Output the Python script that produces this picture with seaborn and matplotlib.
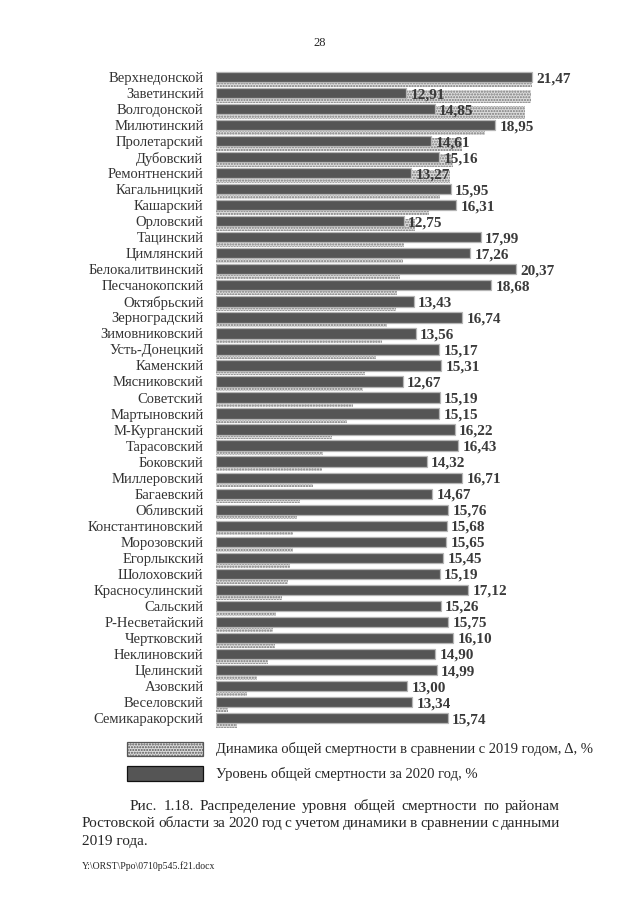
import numpy as np
import pandas as pd
import matplotlib
matplotlib.use("Agg")
import matplotlib.pyplot as plt
from matplotlib.patches import Rectangle
import seaborn as sns

districts = ["Верхнедонской", "Заветинский", "Волгодонской", "Милютинский", "Пролетарский",
             "Дубовский", "Ремонтненский", "Кагальницкий", "Кашарский", "Орловский",
             "Тацинский", "Цимлянский", "Белокалитвинский", "Песчанокопский", "Октябрьский",
             "Зерноградский", "Зимовниковский", "Усть-Донецкий", "Каменский", "Мясниковский",
             "Советский", "Мартыновский", "М-Курганский", "Тарасовский", "Боковский",
             "Миллеровский", "Багаевский", "Обливский", "Константиновский", "Морозовский",
             "Егорлыкский", "Шолоховский", "Красносулинский", "Сальский", "Р-Несветайский",
             "Чертковский", "Неклиновский", "Целинский", "Азовский", "Веселовский",
             "Семикаракорский"]
level_2020 = [21.47, 12.91, 14.85, 18.95, 14.61, 15.16, 13.27, 15.95, 16.31, 12.75,
              17.99, 17.26, 20.37, 18.68, 13.43, 16.74, 13.56, 15.17, 15.31, 12.67,
              15.19, 15.15, 16.22, 16.43, 14.32, 16.71, 14.67, 15.76, 15.68, 15.65,
              15.45, 15.19, 17.12, 15.26, 15.75, 16.10, 14.90, 14.99, 13.00, 13.34,
              15.74]
# estimated from the stippled bars (no labels in the source)
dynamics = [21.5, 21.4, 21.0, 18.3, 16.7, 16.1, 15.9, 15.2, 14.5, 13.5,
            12.8, 12.7, 12.5, 12.3, 12.2, 11.6, 11.3, 10.9, 10.1, 10.0,
            9.3, 8.9, 7.9, 7.3, 7.2, 6.6, 5.7, 5.5, 5.2, 5.2,
            5.0, 4.9, 4.5, 4.1, 3.9, 4.0, 3.5, 2.8, 2.1, 0.8,
            1.4]
legend_labels = ["Динамика общей смертности в сравнении с 2019 годом, Δ, %",
                 "Уровень общей смертности за 2020 год, %"]

df = pd.DataFrame({"district": districts, "level": level_2020, "dyn": dynamics})

sns.set_style("white")
plt.rcParams["font.family"] = ["Liberation Serif", "DejaVu Serif"]
plt.rcParams["hatch.linewidth"] = 1.0

fig = plt.figure(figsize=(6.4, 9.05), dpi=100)
ax = fig.add_axes([0.3375, 0.196, 0.552, 0.7295])

# light stippled bars, behind and shifted down a little
sns.barplot(data=df, y="district", x="dyn", orient="h", ax=ax, width=0.78,
            color="#dcdcdc", edgecolor="#7a7a7a", linewidth=0, hatch="......")
for p in ax.patches:
    p.set_y(p.get_y() + 0.22)

sns.barplot(data=df, y="district", x="level", orient="h", ax=ax, width=0.64,
            color="#555555", edgecolor="#b5b5b5", linewidth=0.9)

for i, v in enumerate(level_2020):
    ax.text(v + 0.3, i + 0.1, f"{v:.2f}".replace(".", ","), va="center", ha="left",
            fontsize=11, fontweight="bold", color="#3a3a3a")

ax.set_xlim(0, 24)
ax.set_ylim(40.6, -0.6)
ax.set_xlabel("")
ax.set_ylabel("")
ax.set_xticks([])
ax.tick_params(axis="y", length=0, pad=9, labelsize=10.5, labelcolor="#333333")
sns.despine(ax=ax, left=True, bottom=True)

# page number
fig.text(0.5, 1 - 43 / 905, "28", ha="center", va="center", fontsize=9)

# legend
fig.patches.append(Rectangle((127 / 640, 1 - 756 / 905), 76 / 640, 14 / 905,
                             transform=fig.transFigure, facecolor="#dcdcdc",
                             edgecolor="#555555", hatch="......", linewidth=0.9))
fig.patches.append(Rectangle((127 / 640, 1 - 781 / 905), 76 / 640, 15 / 905,
                             transform=fig.transFigure, facecolor="#555555",
                             edgecolor="#111111", linewidth=0.9))
fig.text(216 / 640, 1 - 749 / 905, legend_labels[0], va="center", fontsize=10.5)
fig.text(216 / 640, 1 - 774 / 905, legend_labels[1], va="center", fontsize=10.5)

# caption, justified
caption_lines = [
    ("Рис. 1.18. Распределение уровня общей смертности по районам", 130, True),
    ("Ростовской области за 2020 год с учетом динамики в сравнении с данными", 82, True),
    ("2019 года.", 82, False),
]
cap_size = 11
right_edge = 560
renderer = fig.canvas.get_renderer()
for k, (line, x0, justify) in enumerate(caption_lines):
    y = 1 - (806 + k * 17.5) / 905
    words = line.split(" ")
    if not justify:
        fig.text(x0 / 640, y, line, va="center", fontsize=cap_size)
        continue
    widths = []
    for w in words:
        t = fig.text(0, 0, w, fontsize=cap_size)
        widths.append(t.get_window_extent(renderer).width)
        t.remove()
    gap = (right_edge - x0 - sum(widths)) / (len(words) - 1)
    x = x0
    for w, wd in zip(words, widths):
        fig.text(x / 640, y, w, va="center", fontsize=cap_size)
        x += wd + gap

fig.text(82 / 640, 1 - 866 / 905, "Y:\\ORST\\Ppo\\0710p545.f21.docx", va="center", fontsize=7)

fig.savefig("out.png", dpi=100)
